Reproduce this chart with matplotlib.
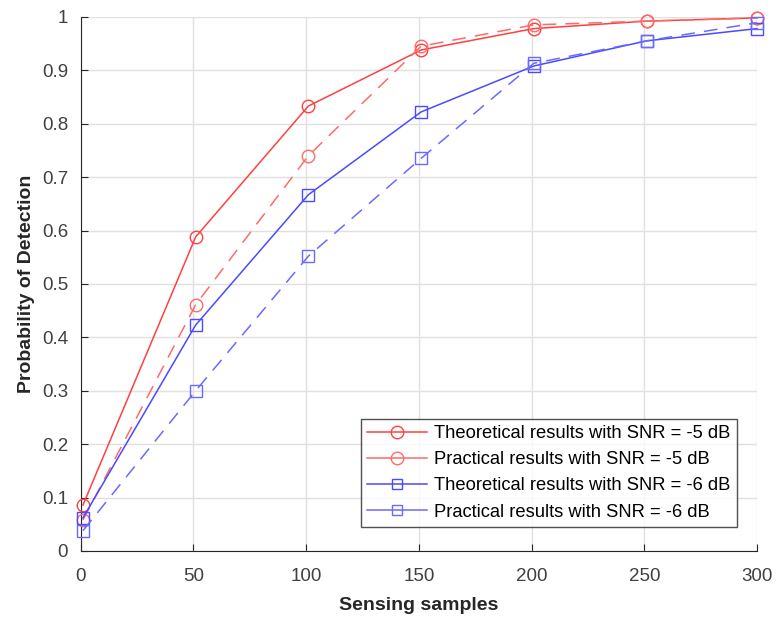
import matplotlib
matplotlib.use("Agg")
import matplotlib.pyplot as plt
from matplotlib.lines import Line2D

plt.rcParams['font.family'] = ['Liberation Sans', 'DejaVu Sans']

x = [1, 51, 101, 151, 201, 251, 300]
theo_5 = [0.086, 0.588, 0.833, 0.938, 0.978, 0.992, 0.998]
prac_5 = [0.058, 0.461, 0.740, 0.945, 0.985, 0.992, 0.998]
theo_6 = [0.062, 0.423, 0.667, 0.822, 0.908, 0.955, 0.978]
prac_6 = [0.038, 0.300, 0.552, 0.735, 0.913, 0.955, 0.989]

labels = ['Theoretical results with SNR = -5 dB',
          'Practical results with SNR = -5 dB',
          'Theoretical results with SNR = -6 dB',
          'Practical results with SNR = -6 dB']

red1 = '#ff4040'
red2 = '#ff6a6a'
blue1 = '#4a4aff'
blue2 = '#6a6aff'

fig = plt.figure(figsize=(7.76, 6.24), dpi=100)
ax = fig.add_axes([0.104, 0.117, 0.8715, 0.856])

ax.plot(x, theo_5, '-', color=red1, marker='o', mfc='none', ms=9, lw=1.1, clip_on=False, zorder=3)
ax.plot(x, prac_5, '--', color=red2, marker='o', mfc='none', ms=9, lw=1.1, dashes=(9, 6), clip_on=False, zorder=3)
ax.plot(x, theo_6, '-', color=blue1, marker='s', mfc='none', ms=8, lw=1.1, clip_on=False, zorder=3)
ax.plot(x, prac_6, '--', color=blue2, marker='s', mfc='none', ms=8, lw=1.1, dashes=(9, 6), clip_on=False, zorder=3)

ax.set_xlim(0, 300)
ax.set_ylim(0, 1)
ax.set_xticks([0, 50, 100, 150, 200, 250, 300])
ax.set_yticks([i / 10 for i in range(11)])
ax.set_yticklabels(['0', '0.1', '0.2', '0.3', '0.4', '0.5', '0.6', '0.7', '0.8', '0.9', '1'])
ax.grid(True, color='#e0e0e0', lw=1)
ax.set_axisbelow(True)
for s in ['top', 'right']:
    ax.spines[s].set_visible(False)
for s in ['left', 'bottom']:
    ax.spines[s].set_color('#262626')
ax.tick_params(direction='in', length=5, labelsize=13.5, colors='#262626', labelcolor='#404040')
ax.tick_params(axis='x', pad=12)
ax.tick_params(axis='y', pad=9)
ax.set_xlabel('Sensing samples', fontsize=14, fontweight='bold', color='#262626', labelpad=9)
ax.set_ylabel('Probability of Detection', fontsize=14, fontweight='bold', color='#262626', labelpad=5)

handles = [
    Line2D([], [], color=red1, marker='o', mfc='none', ms=9, lw=1.1),
    Line2D([], [], color=red2, marker='o', mfc='none', ms=9, lw=1.1),
    Line2D([], [], color=blue1, marker='s', mfc='none', ms=7, lw=1.1),
    Line2D([], [], color=blue2, marker='s', mfc='none', ms=7, lw=1.1),
]
leg = ax.legend(handles, labels, loc='lower right', bbox_to_anchor=(0.970, 0.045),
                fontsize=13.2, frameon=True, fancybox=False, edgecolor='#262626',
                borderpad=0.35, labelspacing=0.5, handlelength=3.3, handletextpad=0.35,
                borderaxespad=0.0)
leg.get_frame().set_linewidth(1.0)

fig.savefig('out.png', dpi=100)
